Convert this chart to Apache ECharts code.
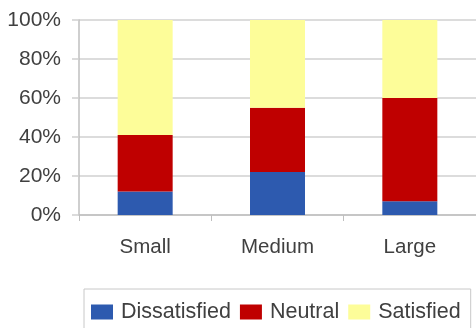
<!DOCTYPE html>
<html>
<head>
<meta charset="utf-8">
<script src="https://cdn.jsdelivr.net/npm/echarts@6/dist/echarts.min.js"></script>
<style>
  html, body { margin: 0; padding: 0; background: #fff; }
  #chart { width: 476px; height: 328px; }
</style>
</head>
<body>
<div id="chart"></div>
<script>
// Company size categories
const categories = ['Small', 'Medium', 'Large'];
// Share of respondents (%) per satisfaction level
const dissatisfied = [12, 22, 7];
const neutral = [29, 33, 53];
const satisfied = [59, 45, 40];
const yTicks = [0, 20, 40, 60, 80, 100];

const FONT = '"Liberation Sans", Arial, sans-serif';
const TEXT = '#404040';

const chart = echarts.init(document.getElementById('chart'), null, { renderer: 'canvas' });

function bar(name, data, color) {
  return {
    name: name,
    type: 'bar',
    stack: 'total',
    data: data,
    barWidth: 55,
    itemStyle: { color: color },
    emphasis: { disabled: true }
  };
}

chart.setOption({
  animation: false,
  grid: { left: 79, top: 20, width: 401, height: 195, containLabel: false },
  legend: {
    left: 84,
    top: 289,
    borderColor: '#c8c8c8',
    borderWidth: 1,
    padding: [12, 10, 30, 7],
    itemWidth: 22,
    itemHeight: 15,
    itemGap: 9,
    icon: 'rect',
    textStyle: { fontFamily: FONT, fontSize: 21.5, color: TEXT, padding: [0, 0, 0, 3] },
    data: ['Dissatisfied', 'Neutral', 'Satisfied']
  },
  xAxis: {
    type: 'category',
    data: categories,
    axisLine: { lineStyle: { color: '#bfbfbf', width: 1.5 } },
    axisTick: { show: true, length: 6, lineStyle: { color: '#bfbfbf' } },
    axisLabel: { fontFamily: FONT, fontSize: 20.5, color: TEXT, margin: 22 }
  },
  yAxis: {
    type: 'value',
    min: yTicks[0],
    max: yTicks[yTicks.length - 1],
    interval: 20,
    axisLine: { show: true, lineStyle: { color: '#bfbfbf', width: 1.5 } },
    axisTick: { show: true, length: 7, lineStyle: { color: '#d0d0d0', width: 1.5 } },
    splitLine: { lineStyle: { color: '#d0d0d0', width: 1.5 } },
    axisLabel: { fontFamily: FONT, fontSize: 21, color: TEXT, margin: 18, formatter: '{value}%' }
  },
  series: [
    bar('Dissatisfied', dissatisfied, '#2d5aaf'),
    bar('Neutral', neutral, '#bf0000'),
    bar('Satisfied', satisfied, '#fdfd99')
  ]
});
</script>
</body>
</html>
